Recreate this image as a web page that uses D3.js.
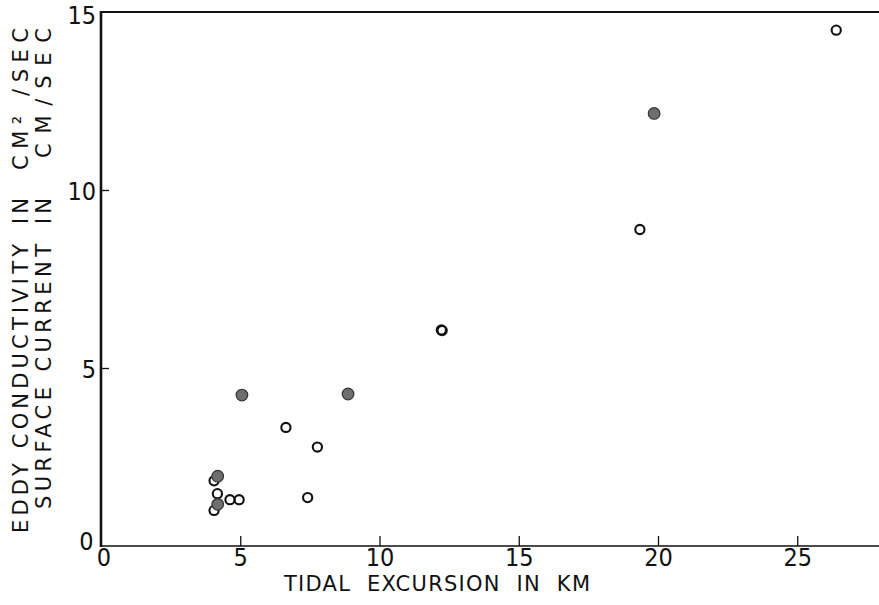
<!DOCTYPE html>
<html>
<head>
<meta charset="utf-8">
<script src="https://cdn.jsdelivr.net/npm/d3@7"></script>
<style>
  html, body { margin: 0; padding: 0; background: #fff; }
  svg { display: block; }
  .lbl { font-family: "DejaVu Sans Condensed", "Liberation Sans Narrow", "DejaVu Sans", sans-serif; fill: #111; }
  .ttl { font-family: "DejaVu Sans", "Liberation Sans", sans-serif; fill: #111; }
</style>
</head>
<body>
<svg id="chart" width="879" height="605"></svg>
<script>
// Tidal excursion (km) against eddy conductivity / surface current
const openX   = [26.4, 19.35, 12.22, 12.25, 6.64, 7.77, 7.42, 4.06, 4.18, 4.06, 4.63, 4.96];
const openY   = [14.49, 8.89, 6.07, 6.05, 3.33, 2.78, 1.36, 1.83, 1.47, 1.00, 1.30, 1.30];
const filledX = [19.86, 8.87, 5.06, 4.19, 4.19];
const filledY = [12.15, 4.27, 4.24, 1.96, 1.17];

const xTicks = [0, 5, 10, 15, 20, 25];
const yTicks = [0, 5, 10, 15];

const xTitle = "TIDAL  EXCURSION  IN  KM";
const yTitle1 = ["EDDY CONDUCTIVITY", "IN", "CM² /SEC"];
const yTitle2 = ["SURFACE CURRENT", "IN", "CM/SEC"];

const svg = d3.select("#chart");
const W = 879, H = 605;
const plotLeft = 101, plotTop = 12, plotBottom = 546;

const x = d3.scaleLinear().domain([0, (W - plotLeft) / 27.85]).range([plotLeft, W]);
const y = d3.scaleLinear().domain([0, 15]).range([plotBottom, plotTop]);

const ink = "#111";

// frame lines: left axis, top line, bottom axis
svg.append("line").attr("x1", plotLeft).attr("x2", plotLeft).attr("y1", plotTop - 1).attr("y2", plotBottom + 1)
  .attr("stroke", ink).attr("stroke-width", 2.6);
svg.append("line").attr("x1", plotLeft).attr("x2", W).attr("y1", plotTop).attr("y2", plotTop)
  .attr("stroke", ink).attr("stroke-width", 2);
svg.append("line").attr("x1", plotLeft).attr("x2", W).attr("y1", plotBottom).attr("y2", plotBottom)
  .attr("stroke", ink).attr("stroke-width", 1.6);

// x axis
const xAxis = d3.axisBottom(x).tickValues(xTicks).tickFormat(d3.format("d"))
  .tickSizeInner(-10).tickSizeOuter(0).tickPadding(2);
const gx = svg.append("g").attr("transform", `translate(0,${plotBottom})`).call(xAxis);
gx.select(".domain").remove();
gx.selectAll(".tick line").attr("stroke", ink).attr("stroke-width", 1.3)
  .filter(d => d === 0).remove();
gx.selectAll(".tick text").attr("class", "lbl").attr("font-size", 25).attr("fill", ink)
  .attr("dx", d => d === 0 ? "0.1em" : "0");

// y axis
const yAxis = d3.axisLeft(y).tickValues(yTicks).tickFormat(d3.format("d"))
  .tickSizeInner(-8).tickSizeOuter(0).tickPadding(5);
const gy = svg.append("g").attr("transform", `translate(${plotLeft},0)`).call(yAxis);
gy.select(".domain").remove();
gy.selectAll(".tick line").attr("stroke", ink).attr("stroke-width", 1.3)
  .filter(d => d === 0 || d === 15).remove();
gy.selectAll(".tick text").attr("class", "lbl").attr("font-size", 25).attr("fill", ink)
  .attr("dy", d => d === 0 ? "0.12em" : d === 15 ? "0.45em" : "0.36em")
  .attr("dx", d => d === 0 ? "-0.1em" : "0");

// x title
svg.append("text").attr("class", "ttl")
  .attr("x", 437).attr("y", 591).attr("text-anchor", "middle")
  .attr("font-size", 21).attr("textLength", 306).attr("lengthAdjust", "spacing")
  .style("white-space", "pre").text(xTitle);

// y titles (two rotated lines, words aligned)
function yLine(cx, parts, spans) {
  const g = svg.append("g");
  parts.forEach((p, i) => {
    const [y0, y1] = spans[i];
    const cy = (y0 + y1) / 2;
    g.append("text").attr("class", "ttl")
      .attr("transform", `translate(${cx},${cy}) rotate(-90)`)
      .attr("text-anchor", "middle").attr("dy", "0.36em")
      .attr("font-size", 21).attr("textLength", y0 - y1).attr("lengthAdjust", "spacing")
      .text(p);
  });
}
yLine(20, yTitle1, [[533, 244], [224, 198], [170, 28]]);
yLine(43, yTitle2, [[509, 244], [224, 198], [158, 28]]);

// open circles
svg.append("g").selectAll("circle").data(openX.map((v, i) => [v, openY[i]])).join("circle")
  .attr("cx", d => x(d[0])).attr("cy", d => y(d[1])).attr("r", 4.6)
  .attr("fill", "none").attr("stroke", ink).attr("stroke-width", 2.1);

// filled circles
svg.append("g").selectAll("circle").data(filledX.map((v, i) => [v, filledY[i]])).join("circle")
  .attr("cx", d => x(d[0])).attr("cy", d => y(d[1])).attr("r", 5.8)
  .attr("fill", "#6e6e6e").attr("stroke", "#333").attr("stroke-width", 1.2);
</script>
</body>
</html>
